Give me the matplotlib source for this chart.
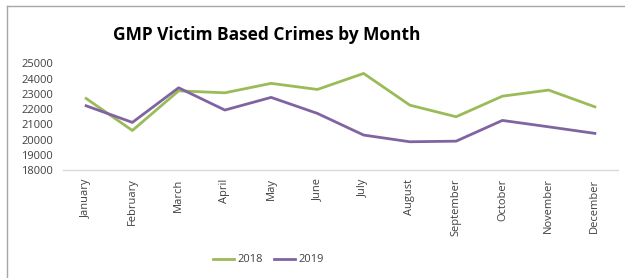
import matplotlib.pyplot as plt
from matplotlib.lines import Line2D

# 월별 데이터
months = ['January', 'February', 'March', 'April', 'May', 'June', 'July',
          'August', 'September', 'October', 'November', 'December']
crimes_2018 = [22700, 20600, 23200, 23070, 23690, 23290, 24340, 22260, 21500, 22850, 23250, 22150]
crimes_2019 = [22220, 21130, 23400, 21940, 22770, 21720, 20300, 19860, 19900, 21260, 20840, 20410]
y_ticks = [18000, 19000, 20000, 21000, 22000, 23000, 24000, 25000]

plt.rcParams['font.family'] = ['Open Sans', 'DejaVu Sans']

fig = plt.figure(figsize=(6.25, 2.78), dpi=100)
ax = fig.add_axes([0.1008, 0.388, 0.888, 0.384])

x = list(range(len(months)))
ax.plot(x, crimes_2018, color='#9BBB59', linewidth=2.0, label='2018')
ax.plot(x, crimes_2019, color='#8064A2', linewidth=2.0, label='2019')

ax.set_xlim(-0.5, len(months) - 0.5)
ax.set_ylim(18000, 25000)
ax.set_yticks(y_ticks)
ax.set_yticklabels([str(v) for v in y_ticks], fontsize=8, color='#404040')
ax.set_xticks(x)
ax.set_xticklabels(months, rotation=90, fontsize=8, color='#404040')
ax.tick_params(axis='y', length=0, pad=7)
ax.tick_params(axis='x', length=0, pad=6)

for s in ['top', 'right', 'left']:
    ax.spines[s].set_visible(False)
ax.spines['bottom'].set_color('#D9D9D9')
ax.spines['bottom'].set_linewidth(1.0)

fig.text(0.427, 0.875, 'GMP Victim Based Crimes by Month', ha='center', va='center',
         fontsize=12.5, fontweight='bold', color='black')

fig.legend(loc='center', bbox_to_anchor=(0.43, 0.065), ncol=2, frameon=False,
           fontsize=8, handlelength=1.9, columnspacing=1.0, handletextpad=0.3,
           labelcolor='#404040')

# 차트 테두리 (위, 왼쪽만 보임)
fig.add_artist(Line2D([7 / 625, 7 / 625], [0, 1 - 6 / 278], transform=fig.transFigure,
                      color='#A6A6A6', linewidth=1.0))
fig.add_artist(Line2D([7 / 625, 1], [1 - 6 / 278, 1 - 6 / 278], transform=fig.transFigure,
                      color='#A6A6A6', linewidth=1.0))

fig.savefig('out.png', dpi=100)
